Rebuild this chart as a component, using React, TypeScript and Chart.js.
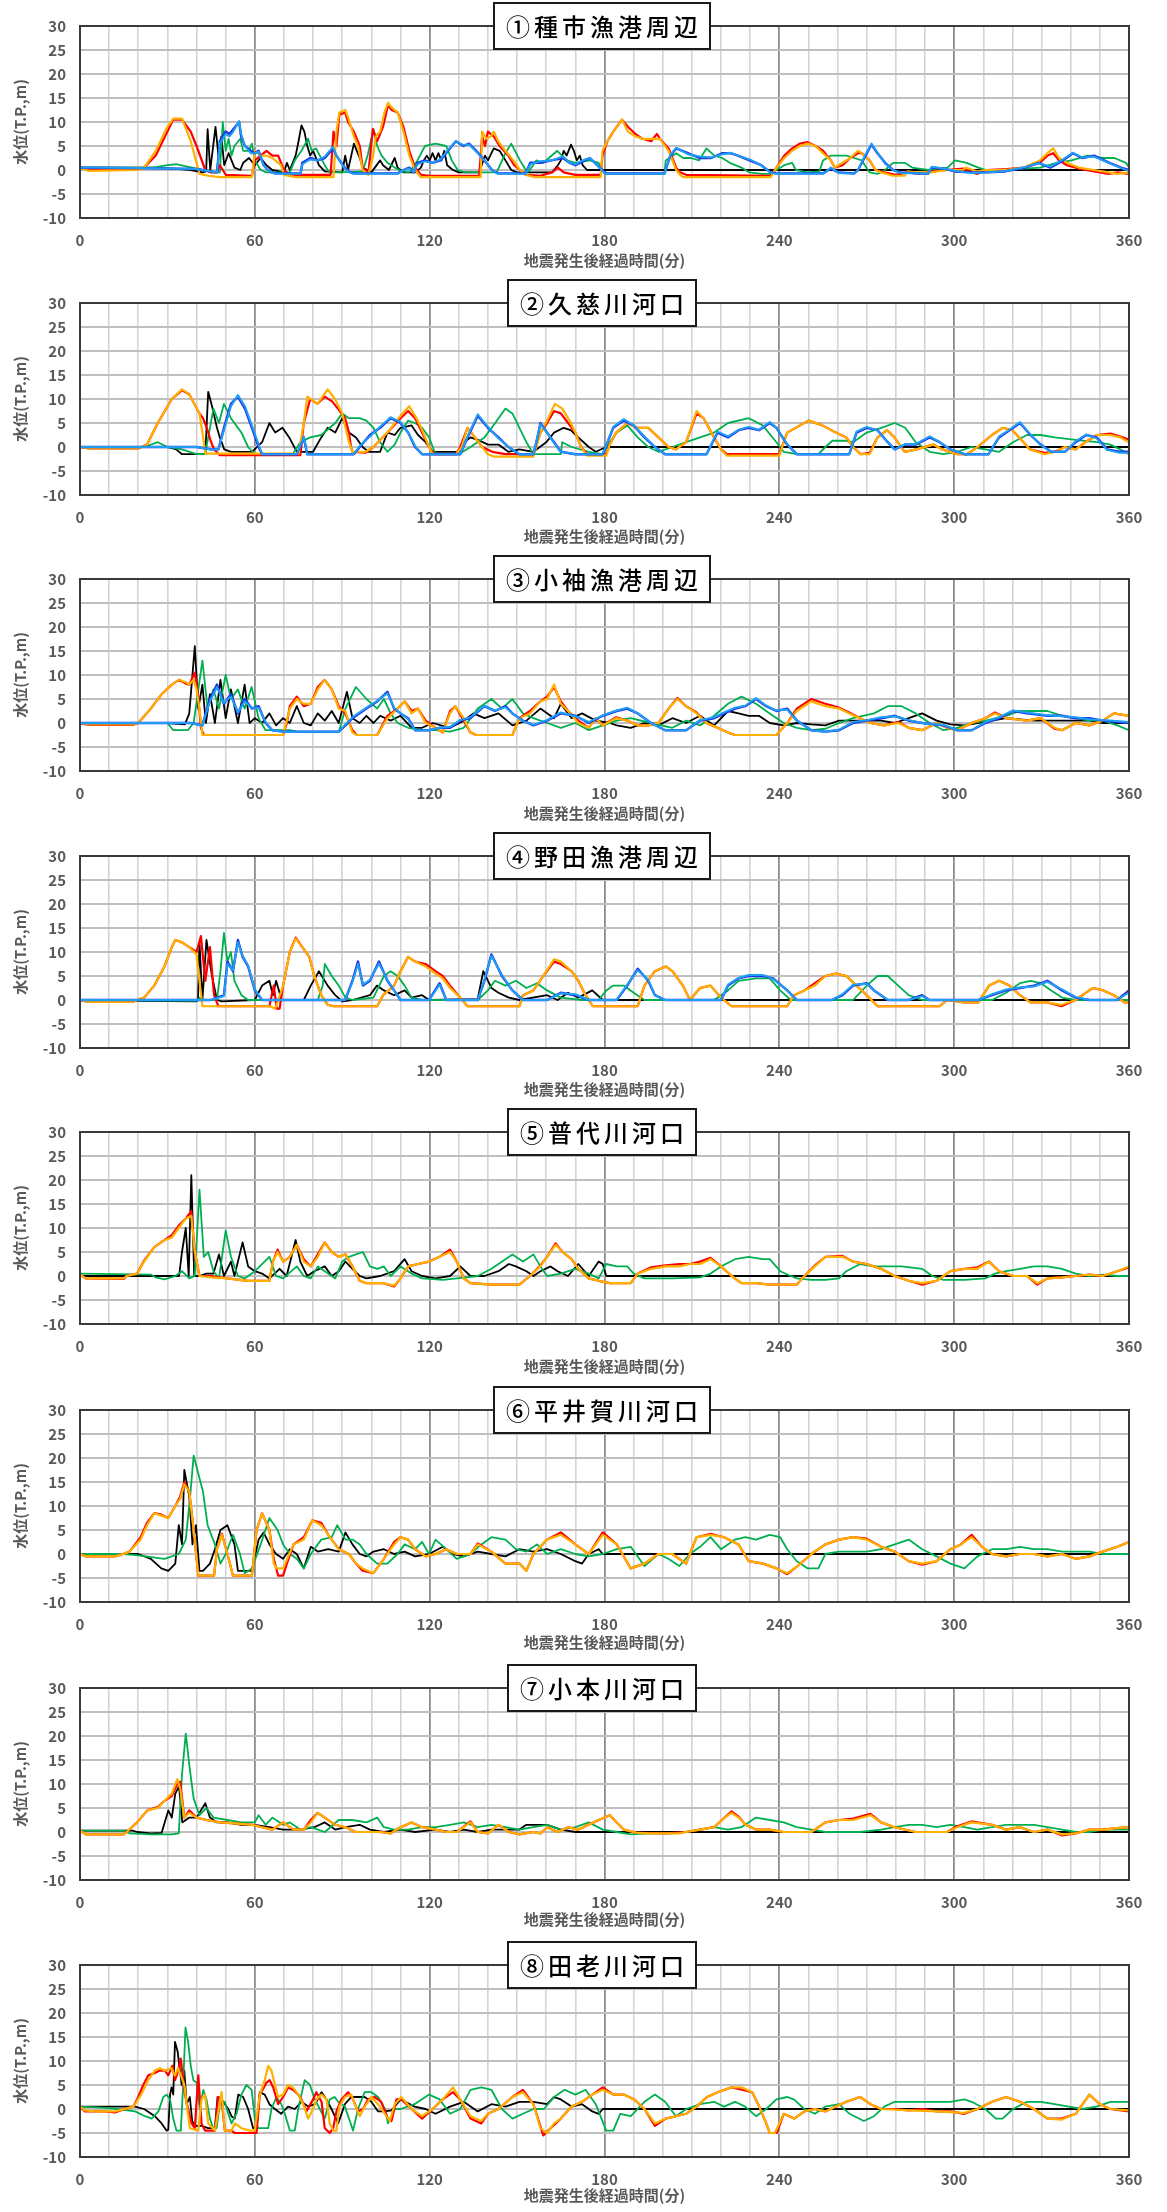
import React, { useEffect, useRef } from "react";
import { Chart, registerables } from "chart.js";
Chart.register(...registerables);

type Pt = [number, number];

const panelTitles = ["①種市漁港周辺", "②久慈川河口", "③小袖漁港周辺", "④野田漁港周辺", "⑤普代川河口", "⑥平井賀川河口", "⑦小本川河口", "⑧田老川河口"];
const xTickLabels = [0, 60, 120, 180, 240, 300, 360];
const yTickLabels = [-10, -5, 0, 5, 10, 15, 20, 25, 30];
const xAxisTitle = "地震発生後経過時間(分)";
const yAxisTitle = "水位(T.P.,m)";
const seriesColors = ["#000000", "#00B050", "#FF0000", "#FFB000", "#1E32E6", "#1E9EF5"];
const seriesWidths = [1.8, 1.8, 2.2, 2.2, 2.4, 2];

// ---------- Panel 1 ----------
const p1Black: Pt[] = [[0,0.5],[25,0.5],[32,0.3],[38,0],[42,-0.5],[43.3,-0.3],[43.8,8.5],[44.7,0],[46.5,9],[47.5,3],[48.5,7],[49.5,1],[51,3.5],[53,0.5],[55,0],[56,1.5],[58,2.5],[60,1],[62,2.5],[64,1],[66,0],[70,-0.5],[71,1.5],[72,0],[74,3],[75,6],[76,9.3],[77,8],[78,5],[79,3],[80,4],[82,1],[84,-0.3],[90,-0.5],[91,3],[92,0],[94,5.5],[95,4],[96,2.5],[97,0.5],[100,-0.5],[103,2],[104,1],[106,0],[108,2.5],[109,0.5],[111,-0.5],[115,-0.5],[117,0.5],[118,2],[119,3],[120,2],[121,3.5],[122,2],[123,3.5],[124,2],[125,4],[126,1],[128,0],[130,-0.5],[137,-0.5],[139,3],[140,2],[142,4.5],[144,4],[146,2],[148,0],[150,-0.5],[162,-0.5],[164,1],[165,2],[166,4],[167,3],[168.5,5.3],[169.5,4],[170.5,2],[171.5,3],[172.5,1],[174,0],[360,0]];
const p1Green: Pt[] = [[0,0.5],[25,0.5],[30,1],[33,1.2],[36,0.8],[42,0],[45,-0.5],[48,-0.5],[49,10],[50,4],[51,6.5],[52,3],[53,5],[55,6.5],[56,4],[58,4],[59,5.5],[60,2],[62,0],[64,-0.5],[72,-0.5],[73.7,2],[76,4],[78.3,6.5],[79.5,4],[81,4.5],[84,1],[85.5,-0.5],[89,-0.5],[97,-0.3],[98.7,3],[100.7,8.5],[102,5],[103.5,3],[105.5,1.5],[108,0.5],[110.5,-0.3],[113,-0.5],[115.8,2],[118.4,5],[122,5.5],[125.7,5],[127.6,2],[129.6,0],[132,-0.5],[143,-0.5],[146,3.5],[148,5.5],[149.3,4],[151,2],[153,0],[154,-0.3],[156.6,2],[159,1.5],[163.8,4],[167,2],[170,1.5],[175,2],[178,1.5],[180,-0.8],[200.6,-0.8],[201,2],[204.6,3.5],[207,2.5],[209.7,2.5],[212.4,2],[215,4.5],[217.7,3],[220.4,2.5],[223,1.5],[227,0.5],[229.7,-0.5],[234,-0.8],[237,-0.8],[239,0],[241.7,1],[244.4,1.5],[245.7,0],[249.7,-0.5],[253.7,-0.3],[255,2],[257.7,3],[263,3],[265.7,2.5],[268.3,2],[271,-0.5],[273.6,-0.8],[276.3,0],[279,1.5],[283,1.5],[285.6,0.5],[291,0],[297.7,0.5],[300.3,2],[304.3,1.5],[308.3,0.5],[311,0],[317.6,0],[324.3,0.3],[329.6,0.5],[335,1.5],[340.3,2],[345.7,3],[351,2.5],[355,2.5],[359,1.5],[360,0.5]];
const p1Red: Pt[] = [[0,0.5],[3,0],[20,0.2],[22,0.5],[26,3],[30,8],[32,10.5],[35,10.5],[38,8],[40,5],[43,0],[45,-0.5],[47,-0.5],[48,1],[50,-1],[59,-1.2],[60,2],[62,3],[64,4],[66,3],[68,3],[70,0],[72,-1],[86,-1],[87,8],[88,5],[89,11.5],[91,12],[92,10],[94,8],[96,5],[97,0.5],[99,-0.5],[100.5,8.5],[102,6],[104,9],[105.7,13.5],[107,12.5],[109,12],[111,9],[113,4],[115,0.5],[117,-1],[120,-1.2],[137,-1.2],[138,7],[139,5],[140,8],[142,7],[144,5],[147,3],[149,1],[151,0],[153,-1],[158,-1.2],[162,-0.5],[164,0.5],[166,-0.5],[170,-1],[178.7,-1],[179.3,3],[181,6],[183,8],[186,10.5],[188,9],[190.6,7.5],[193,6.5],[196,6],[198,7.5],[199,6.5],[202,4.5],[204.6,0.5],[206,-0.5],[208,-1],[237,-1.2],[239,0.5],[241.7,3],[244.4,4.5],[247,5.5],[249.7,5.8],[252.4,5],[255,4],[257.7,2],[259,0.5],[261.7,1],[264.3,2.5],[267,3.5],[268.3,3.5],[271,2],[273,0],[276,-0.5],[280,-1],[284,-0.5],[288,-0.8],[292,-0.3],[297.5,0],[303,0.3],[306,-0.5],[308,-0.8],[311,0],[318,0.2],[324,0.5],[329.4,1.5],[332,3],[334,3.5],[336,2],[338.7,1],[342.7,0.3],[348,-0.3],[353,-0.8],[356,-0.5],[360,-0.8]];
const p1Orange: Pt[] = [[0,0.5],[3,-0.2],[20,0],[22,0.5],[26,4],[30,9],[32,10.7],[35,10.7],[38,6],[41,-0.8],[44,-1.2],[48,-1.5],[59,-1.5],[60,4],[62,3],[64,3],[66,2.5],[69,1],[70,-1],[74,-1.5],[87,-1.5],[88,8],[89,12],[91,12.5],[92,11],[94,7],[95.4,5],[97,0],[99,-1],[100.6,3],[101.5,7],[103,8],[104.5,12],[105.7,14],[107,13],[109,12],[111,8],[113,3],[115,0],[117,-1.5],[137.5,-1.5],[138,8],[139.5,6.5],[141,7],[142,8],[143.5,6],[146,4],[148.7,2],[151,0],[153,-1],[156,-1.5],[178.7,-1.5],[179.3,4],[181,6],[183,8],[186,10.5],[188,8],[190.6,7],[193,6.5],[199,6.5],[202,4],[204.6,0],[206,-1],[207,-1.5],[237,-1.5],[239,0.5],[241.7,2.5],[244.4,4],[247,5],[249.7,5.5],[252.4,5],[255,3.5],[257.7,2],[259,0.5],[261.7,1.5],[264.3,2.5],[267,4],[268.3,3.5],[271,2],[273,0],[275,-0.5],[279,-1.2],[283,-1.2],[284,-0.3],[287,-0.5],[292,-0.5],[297.5,0],[303,0],[304,0.5],[308,-0.3],[310.7,0],[317.5,0],[324,0.5],[329.4,2],[332,3.5],[334,4.5],[336,2.5],[338.7,1.5],[342.7,0.5],[348,0],[353,-0.5],[356,-0.8],[360,-0.5]];
const p1Blue: Pt[] = [[0,0.5],[20,0.4],[40,0.2],[45,-0.3],[47,-0.5],[48,6],[50,8],[51.3,7.5],[52.6,8.5],[54.6,10],[55.3,7],[56.6,5],[58.6,4],[60,3.5],[61.3,4],[63,1],[64.5,0],[65.8,-0.5],[67,-0.7],[75.7,-0.7],[76.3,1.5],[79,2.5],[81.6,2],[84,2.5],[86.8,4.5],[88,3],[90.8,0.5],[92.8,-0.5],[94,-0.7],[109,-0.7],[111,0],[113,0.5],[114.5,-0.5],[115.8,1.5],[118.4,2],[121,1.5],[123.7,2],[126.3,4],[129,6],[131.6,5],[133.5,5.5],[136,4],[138.8,2],[141.4,0],[143.4,-0.7],[153,-0.7],[154.5,1.5],[157.9,1.5],[161.8,2],[165.8,2.5],[168,1.5],[170,1],[173.3,2],[175,2.5],[177.5,1],[180,-0.5],[181,-0.7],[200.6,-0.7],[202.6,3],[204.6,4.5],[208.6,3.5],[212.6,2.5],[216.6,2.5],[220.5,3.5],[223.2,3.5],[225.8,3],[229.8,2],[233.8,1],[237,-0.5],[239,-0.7],[255,-0.7],[257.7,0.3],[260.3,-0.5],[265.7,-0.7],[267,0],[269.6,3],[271.6,5.3],[273.7,3.5],[276.3,1.5],[279,0],[281.6,-0.5],[291,-0.8],[292.3,0.5],[296.3,0.3],[300.3,-0.3],[305.5,-0.5],[311,-0.5],[317.5,-0.3],[324.3,0.5],[329,1.5],[333,0.5],[337.4,2],[340.7,3.5],[344,2.5],[348,3],[353.3,1.5],[357.3,0.5],[360,0]];
const p1LightBlue: Pt[] = [[0,0.5],[20,0.4],[40,0.2],[45,-0.3],[47,-0.5],[48,5.5],[50,7.5],[51.3,7],[52.6,8],[54.6,10.2],[55.3,7.5],[56.6,5],[58.6,3.5],[60,3.5],[61.3,3.8],[63,1],[64.5,0],[65.8,-0.5],[67,-0.8],[75.7,-0.8],[76.3,1.2],[79,2.2],[81.6,2],[84,2.8],[86.8,4.8],[88,3],[90.8,0.3],[92.8,-0.6],[94,-0.8],[109,-0.8],[111,0],[113,0.3],[114.5,-0.5],[115.8,1.2],[118.4,1.8],[121,1.5],[123.7,2.2],[126.3,4.2],[129,6],[131.6,5.2],[133.5,5.3],[136,3.8],[138.8,2],[141.4,0],[143.4,-0.8],[153,-0.8],[154.5,1.2],[157.9,1.8],[161.8,2],[165.8,2.8],[168,1.5],[170,1.2],[173.3,2.2],[175,2.5],[177.5,1],[180,-0.6],[181,-0.8],[200.6,-0.8],[202.6,3.2],[204.6,4.6],[208.6,3.3],[212.6,2.8],[216.6,2.6],[220.5,3.3],[223.2,3.6],[225.8,3],[229.8,2.2],[233.8,1],[237,-0.6],[239,-0.8],[255,-0.8],[257.7,0.5],[260.3,-0.6],[265.7,-0.8],[267,0],[269.6,3.2],[271.6,5.5],[273.7,3.6],[276.3,1.3],[279,0],[281.6,-0.6],[291,-0.8],[292.3,0.7],[296.3,0.3],[300.3,-0.2],[305.5,-0.6],[311,-0.5],[317.5,-0.2],[324.3,0.6],[329,1.4],[333,0.7],[337.4,2.2],[340.7,3.6],[344,2.6],[348,2.8],[353.3,1.4],[357.3,0.4],[360,-0.2]];

// ---------- Panel 2 ----------
const p2Black: Pt[] = [[0,0],[30,0],[33,-0.5],[35,-1.5],[43,-1.5],[43.5,5],[44,11.5],[45.5,8],[47,4],[48,2],[49.5,-0.5],[51.8,-1],[59,-1],[62.5,1],[65,5],[67,3],[69.5,4],[71.8,2],[74.4,-1],[80,-1],[82.8,2],[85,4],[87.6,3],[90,6],[92.3,3],[94.7,2],[97,0],[99,-1],[103,-1],[105.5,3],[108,2.5],[110,4],[113.8,4.5],[116,2.5],[118.6,1],[121,-1],[130,-1],[131.7,1],[134,2],[136.5,1.5],[140,0.5],[143.6,0.5],[147,-1],[150.8,-0.5],[155.6,-1],[160,1],[162.7,3],[166,4],[168.4,3.5],[171,2],[174.6,0],[177,-1],[180.6,0],[360,0]];
const p2Green: Pt[] = [[0,0],[22,0],[26.7,1],[30,0],[35,-0.5],[40,-1.5],[43,-1.5],[44,2],[45.8,8],[47.7,5],[49.4,9],[51.8,6],[55.4,3],[57.7,0],[60,-1.5],[73,-1.5],[75.6,1],[79,2],[82.8,2.5],[87.6,5],[90,7],[92.3,6],[95.9,6],[98.3,5.5],[100.7,4],[103,1],[105.5,-1],[108,0.5],[110,3],[112.6,5.5],[115,5],[117.4,4],[119.8,2],[122,-1.5],[130,-1.5],[134,0],[138.8,2],[142.5,5],[146,8],[148.4,7],[150.8,4],[153.2,1],[155.6,-1.5],[165,-1.5],[165.5,1],[168.7,0],[174.6,-1],[179.4,-1.5],[181.8,1],[184.2,3],[187.8,4.5],[191.4,2],[195,0],[198.5,-1],[203.3,0],[208,1],[212.8,2],[217.6,3],[222.4,5],[229.5,6],[234.3,4.5],[239,1],[241.5,-1],[246,-1.5],[253.4,-1.5],[255.8,0],[258.2,1.3],[263,1.3],[265.3,1],[270,3],[275,4],[279.6,5],[283.2,4],[286.8,1],[291.6,-1],[296.3,-1.5],[301,-1],[306,0],[310.7,-0.5],[315.4,-1],[320.2,1],[325,2.5],[329.7,2.5],[334.5,2],[341.7,1.5],[349,1],[353.6,0.5],[357,-0.5],[360,-1.5]];
const p2Red: Pt[] = [[0,0],[3,-0.3],[20,-0.3],[23,0.5],[26.7,5],[31.5,10],[35,11.8],[37.5,11],[41,7],[42.2,6],[43.5,4],[45,1],[46,-0.5],[48,-1.7],[75.6,-1.7],[76.8,5],[79,10],[81.5,9],[84,10.5],[86.5,9.5],[88.5,8],[91,6],[92.3,3],[93,0],[93.5,-1],[98,-1.2],[100.7,0],[105.5,3],[110,6],[112.6,7.5],[115,6],[117.4,3],[119.8,0],[121.5,-1.5],[129,-1.5],[130.5,0],[133,4],[135.5,2],[138,0],[141.5,-1],[146,-1.5],[155.6,-1.5],[158,3],[160.3,5],[162.7,7.5],[165,7],[167.5,5],[170,3],[172,0],[174,-1.5],[180.6,-1.5],[181.8,0.5],[184,3],[187.8,5],[191,4],[195,4],[198.5,2],[202,0],[204.5,-0.5],[208,1],[211.6,7],[214,6],[217.6,2],[220,-0.5],[222,-1.5],[240,-1.5],[242.7,3],[250,5.5],[254.8,4.5],[259.4,3],[263,2],[265.3,0],[268,-1.5],[271,-1.2],[273.7,2],[277,3.5],[279.5,2],[283,-1],[287,-0.5],[292.8,0.5],[296,-0.5],[301,-1.5],[304.5,-1.5],[308,0],[313,2.5],[316.6,4],[320,3.5],[323.8,1],[326,-0.5],[331,-1.2],[334.5,-1],[338,0],[341.7,-0.5],[345,1],[349,2.5],[353.6,2.8],[357,2.2],[360,1.5]];
const p2Orange: Pt[] = [[0,0],[3,-0.3],[20,-0.3],[23,0.5],[26.7,5],[31.5,10],[35,12],[37.5,11],[41,7],[42.5,1],[43,-1.4],[75,-1.4],[76.8,5],[78,10.5],[81.5,9],[85,12],[87.5,10],[90,7],[92.3,1],[93.5,-1],[98,-1],[100.7,0],[105.5,3],[110,6.5],[113,8.5],[115.5,6],[117.8,3],[119.8,0],[121,-1.5],[129,-1.5],[131,0],[133,4],[135.5,2],[138,0],[140,-1.5],[142,-2],[155.6,-2],[158,3],[160.3,5.5],[163,9],[165.5,8],[168,5.5],[170,3],[172,0],[174,-1.8],[180.6,-1.8],[181.8,0.5],[184,3],[187.8,5],[191,4],[195,4],[198.5,2],[202,0],[204.5,-0.5],[208,1],[211.6,7.5],[214,6],[217.6,2],[220,-0.5],[222,-1.8],[240,-1.8],[242.7,3],[250,5.5],[254.8,4.5],[259.4,3],[263,2],[265.3,0],[268,-1.5],[271,-1.5],[273.7,2],[277,3.5],[279.5,2],[283,-1],[287,-0.5],[292.8,0.5],[296,-0.5],[301,-1.5],[304.5,-1.5],[308,0],[313,2.5],[316.6,4],[320,3.5],[323.8,1],[326,-0.5],[331,-1.5],[334.5,-1],[338,0],[341.7,-0.5],[345,1],[349,2.5],[353.6,2.5],[357,2],[360,1]];
const p2Blue: Pt[] = [[0,0],[40,0],[45,-0.5],[47.5,-0.5],[49.4,4],[51.8,9],[54.2,10.5],[56.6,8],[59,4],[61.3,0],[62.5,-1.5],[74.4,-1.5],[76.2,1],[76.8,2],[78,-1.5],[94,-1.5],[96,0],[99.5,2.5],[103,4],[106.6,6],[110,5],[112.6,3],[115,0],[117.4,-1.5],[130.5,-1.5],[133,2],[136.5,6.5],[140,4],[143.6,2],[147,0],[150.8,-1.5],[155.6,-1.5],[157,2],[158,5],[160.3,3],[162.7,1],[165,-1],[170,-1.5],[179.4,-1.5],[183,4],[186.6,5.5],[190,4.5],[193.7,2],[197.3,0],[200.8,-1.5],[215,-1.5],[218.8,3],[222.4,2],[226,3.5],[229.5,4],[233,3.5],[236.7,5],[239,4],[242.7,0.5],[246,-1.5],[264,-1.5],[266.5,3],[270,4],[273.7,3.5],[277.2,1],[279.6,-0.5],[283.2,0.5],[286.8,0.5],[291.6,2],[295,1],[298.7,-0.5],[303.5,-1.5],[311.8,-1.5],[315.4,2],[319,3.5],[322.6,5],[326.2,2.5],[329.7,0.5],[333.3,-1],[338,-1],[341.7,1],[345.3,2.5],[348.9,2],[352.5,-0.5],[356.8,-1],[360,-1]];
const p2LightBlue: Pt[] = [[0,0],[40,0],[45,-0.5],[47.5,-0.5],[49.4,3.5],[51.8,8.5],[54.2,10.8],[56.6,8.5],[59,4.5],[61.3,0.5],[62.5,-1.5],[74.4,-1.5],[76.2,1.2],[76.8,2.2],[78,-1.5],[94,-1.5],[96,0.2],[99.5,2.2],[103,4.2],[106.6,6.2],[110,5.2],[112.6,3],[115,0.2],[117.4,-1.5],[130.5,-1.5],[133,2.2],[136.5,6.8],[140,4.2],[143.6,1.8],[147,0],[150.8,-1.5],[155.6,-1.5],[157,2.2],[158,4.8],[160.3,3],[162.7,0.8],[165,-1],[170,-1.5],[179.4,-1.5],[183,4.2],[186.6,5.8],[190,4.5],[193.7,2.2],[197.3,0],[200.8,-1.5],[215,-1.5],[218.8,3.2],[222.4,2.2],[226,3.6],[229.5,4.2],[233,3.6],[236.7,5.2],[239,4],[242.7,0.6],[246,-1.5],[264,-1.5],[266.5,3.2],[270,4.2],[273.7,3.4],[277.2,1],[279.6,-0.5],[283.2,0.6],[286.8,0.6],[291.6,2.2],[295,1],[298.7,-0.5],[303.5,-1.5],[311.8,-1.5],[315.4,2.2],[319,3.6],[322.6,5.2],[326.2,2.6],[329.7,0.4],[333.3,-1],[338,-1],[341.7,1.2],[345.3,2.6],[348.9,1.8],[352.5,-0.6],[356.8,-1.2],[360,-1.2]];

// ---------- Panel 3 ----------
const p3Black: Pt[] = [[0,0],[30,0],[36,-0.3],[37.5,2],[39.4,16],[40.6,3],[42,8],[43.2,0],[44.6,6],[46.3,0],[48.2,9],[50,1],[51.8,7],[54.2,0],[56.5,8],[58.2,0],[60,1],[62.5,0],[65,2],[67.3,-0.5],[69.7,1],[72,0],[74.4,3.5],[76.8,0],[79.2,-0.5],[81.6,2],[84,0.5],[86.4,2.5],[88.8,0],[91.6,6.5],[93.5,1],[96,0],[98.3,1.5],[100.7,0],[103,1.5],[106.6,0.5],[110,1.5],[113.8,-1],[117.4,-1],[121,0],[127,-1],[131.7,0.5],[135,2],[138.8,1],[143.6,2],[148.4,-0.5],[153.2,0.5],[158,3],[162.7,1],[165,4],[168.7,1],[172.3,2],[177,0.5],[181.8,0],[184.2,-0.5],[189,-1],[193.7,0],[198.5,-0.5],[203.3,1],[208,0],[212.8,1.5],[217.6,-0.5],[222.4,2.5],[226,2],[229.5,1.5],[233,1.5],[236.7,0],[241.5,-0.5],[246,0],[251,-0.3],[255.8,-0.5],[260.5,0.5],[265.3,0.5],[270,0.5],[274.9,0.5],[279.6,0],[284.4,1],[289,2],[294,0.5],[298.7,-0.3],[303.5,-0.5],[308,0],[313,0.5],[317.8,1],[327.4,0.5],[337,0.5],[346.4,0.5],[351,0],[360,0]];
const p3Green: Pt[] = [[0,0],[30,0],[32,-1.5],[37,-1.5],[39,0],[42,13],[43.8,3],[45.8,7],[47.7,3],[50,10],[51.8,5],[54.2,7],[56.5,3],[58.9,7.5],[61.3,1],[63.7,-1.5],[72,-1.5],[75,-1.9],[88.8,-1.9],[91.1,3],[94.7,7.5],[98.3,5],[102,3],[104.3,5],[106.6,2],[109,0],[112.6,-1],[117.4,-1.5],[122,-1.5],[127,-1.8],[131.7,-1],[136.5,3],[141.2,5],[144.8,3],[148.4,5],[152,2],[155.6,1],[160.3,0],[165,-1],[170,0],[174.6,-1.5],[179.4,-0.5],[184.2,0.5],[189,1],[196,0],[203.3,-1],[208,0.5],[212.8,-0.5],[217.6,1.5],[222.4,4],[227,5.5],[232,4],[236.7,2],[241.5,0],[246,-1],[251,-1.5],[255.8,-1.2],[260.5,0],[265.3,1],[272.5,2],[277.2,3.5],[282,3.5],[286.8,2],[291.6,0],[296.3,-1.5],[301,-1],[306,0],[310.7,0.5],[317.8,1.5],[322.6,2.5],[327.4,2.5],[332,2.5],[337,1.5],[341.7,1],[346.4,0.5],[351,0.5],[356,-0.5],[360,-1.5]];
const p3Red: Pt[] = [[0,0],[3,-0.4],[18,-0.4],[20,0],[24.3,3],[28,6],[31.5,8],[34,9],[36.3,8.2],[37.5,8],[39.4,10.5],[40.5,6],[41.5,-1],[42.5,-2.5],[69.7,-2.5],[71,0],[72,3.5],[74.4,5.5],[76.8,3.5],[79.2,4],[81.6,7.5],[84,9],[86.4,7],[88.8,3.5],[91,2],[93.5,-1.5],[95,-2.5],[102,-2.5],[105.5,1.5],[109,3],[111.4,4.5],[113.8,2.5],[116,3],[118.6,0.5],[122,-1],[124.5,-2],[127,2.5],[128.8,3.5],[131.7,0.5],[134,-2],[136,-2.5],[148.4,-2.5],[150.8,1],[154.4,2.5],[158,4.5],[160.3,5.5],[162.7,7.5],[165,4.5],[167.5,2.5],[171,0.5],[174.6,-1],[177,1],[179.4,-0.5],[184,1.2],[187.8,0.5],[191.4,-0.5],[195,-0.5],[198.5,0],[202,3],[205,5.2],[208,3.5],[211.6,2.2],[215,0],[218.8,-1],[222.4,-2],[224.8,-2.5],[239,-2.5],[242.7,0],[246,3],[251,5],[255.8,4],[260.5,3.2],[264,2.2],[267.7,1],[271.3,0],[276,-0.5],[280.8,0.2],[284.4,-1],[289,-1.5],[294,0],[297.5,-1],[301,-1.5],[306,0],[310.7,1],[314,2.2],[318,1],[325,0.5],[329.7,1],[334.5,-1.2],[337,-1.5],[341.7,0],[346.4,-0.5],[351,0.5],[354.8,2],[360,1.5]];
const p3Orange: Pt[] = [[0,0],[3,-0.3],[18,-0.3],[20,0],[24.3,3],[28,6],[31.5,8],[34,9],[36.3,8.5],[37.5,8],[39,9],[40,7],[41,3],[42,-2.5],[69.7,-2.5],[72,3],[74.4,5],[76.8,4],[79.2,4],[81.6,7],[84,9],[86.4,7],[88.8,3],[91,2.5],[93.5,-2],[95,-2.5],[102,-2.5],[105.5,1],[109,3],[111.4,4.5],[113.8,2],[116,3],[118.6,0],[122,-1],[124.5,-2],[127,2],[128.8,3.5],[131.7,1],[134,-2],[136,-2.5],[148.4,-2.5],[150.8,1],[154.4,2],[158,4.5],[160.3,5],[162.7,8],[165,4],[167.5,2.5],[171,0],[174.6,-1],[177,1],[179.4,-0.5],[184,1],[187.8,0.5],[191.4,-0.5],[195,-0.5],[198.5,0],[202,3],[205,5],[208,3.5],[211.6,2],[215,0],[218.8,-1],[222.4,-2],[224.8,-2.5],[239,-2.5],[242.7,0],[246,2.5],[251,4.5],[255.8,3.5],[260.5,3],[264,2],[267.7,1],[271.3,0],[276,-0.5],[280.8,0],[284.4,-1],[289,-1.5],[294,0],[297.5,-1],[301,-1.5],[306,0],[310.7,1],[314,2],[318,1],[325,0.5],[329.7,1],[334.5,-1],[337,-1.5],[341.7,0],[346.4,-0.5],[351,0.5],[354.8,2],[360,1.5]];
const p3Blue: Pt[] = [[0,0],[38,0],[42,-0.5],[44.6,5],[47,8],[49.4,4],[51.8,6],[54.2,2],[56.5,5],[59,3],[61.3,3.5],[63.7,0],[66,-1.5],[69.7,-1.8],[88.8,-1.8],[91.1,-0.5],[93.5,1],[98.3,3],[102,4.5],[105.5,6.5],[107.8,3],[110,2],[112.6,1],[115,-1.5],[119.8,-1.5],[123.4,-1],[127,-1],[130.5,0.5],[134,1],[138.8,3.5],[142.4,2.5],[146,3.5],[148.4,2],[152,0.5],[155.6,-0.5],[160.3,0.5],[165,2],[170,1.5],[174.6,0],[179.4,1.5],[184.2,2.5],[187.8,3],[191.4,2],[196,0],[200.8,-1.5],[208,-1.5],[212.8,0.5],[217.6,1],[221,2],[224.8,3],[228.3,3.5],[232,5],[235.5,3.5],[239,2.5],[242.7,3],[246,0.5],[251,-1.5],[255.8,-1.8],[260.5,-1.5],[265.3,0],[270,0.5],[274.9,1],[279.6,1.5],[284.4,0.5],[289,0],[296.3,-0.5],[301,-1.5],[306,-1.5],[310.7,0],[315.4,1],[320.2,2.5],[325,2],[332,1.5],[337,1.5],[341.7,1],[346.4,1],[351,0.5],[360,0]];
const p3LightBlue: Pt[] = [[0,0],[38,0],[42,-0.5],[44.6,4.5],[47,7.5],[49.4,4.2],[51.8,5.5],[54.2,2.2],[56.5,4.5],[59,3.2],[61.3,3.2],[63.7,0.2],[66,-1.5],[69.7,-1.8],[88.8,-1.8],[91.1,-0.3],[93.5,1.2],[98.3,3.2],[102,4.6],[105.5,6.2],[107.8,3.2],[110,2],[112.6,0.8],[115,-1.5],[119.8,-1.5],[123.4,-1],[127,-0.8],[130.5,0.6],[134,1.2],[138.8,3.6],[142.4,2.6],[146,3.3],[148.4,2],[152,0.4],[155.6,-0.4],[160.3,0.6],[165,2.2],[170,1.4],[174.6,0.2],[179.4,1.6],[184.2,2.6],[187.8,3.2],[191.4,2],[196,0],[200.8,-1.5],[208,-1.5],[212.8,0.6],[217.6,1.2],[221,2.2],[224.8,3.2],[228.3,3.6],[232,5.2],[235.5,3.6],[239,2.6],[242.7,2.8],[246,0.5],[251,-1.5],[255.8,-1.8],[260.5,-1.4],[265.3,0.2],[270,0.6],[274.9,1.2],[279.6,1.4],[284.4,0.6],[289,0],[296.3,-0.4],[301,-1.5],[306,-1.5],[310.7,0.2],[315.4,1.2],[320.2,2.6],[325,2.2],[332,1.6],[337,1.4],[341.7,1.2],[346.4,0.8],[351,0.6],[360,0.2]];

// ---------- Panel 4 ----------
const p4Black: Pt[] = [[0,0],[20,-0.2],[40,-0.3],[40.5,0],[41,12],[42,0],[43.4,12.5],[45.3,5],[47,0],[48.7,-0.3],[60,0],[62.5,3],[65,4],[66.2,1],[67.3,4],[69.2,0],[76.8,0],[79.2,3],[82,6],[85,3],[87.6,1],[90,-0.3],[93.5,0],[99.5,1],[101.9,3],[104.3,2],[107.8,1],[111.4,2],[113.8,0.5],[117.4,1],[119.8,0],[136.5,0.2],[138.4,6],[141.2,2.5],[143.6,1.5],[147.2,0.5],[150.8,0],[160.3,1],[163.9,0],[167.5,1.5],[171,0.5],[175.8,2],[179.4,0],[360,0]];
const p4Green: Pt[] = [[0,0],[40,-0.2],[41,0.5],[42.2,0],[47,0],[48.2,6],[49.4,14],[50.6,8],[51.8,10],[53,4],[55.4,1],[57.7,0],[81.6,0],[83.3,3],[84,7.5],[86.4,5],[88.8,3],[91.1,0.5],[93.5,0],[100.7,0.5],[104.3,5],[106.6,6],[109,5],[111.4,3],[113.8,0.5],[117.4,0],[136.5,0],[140,2],[142.4,4],[146,3],[149.6,4],[153.2,2.5],[156.8,3.5],[160.3,2],[165,0.5],[172.3,0],[178,0],[180.6,2],[183,3],[186.6,3],[190,1.5],[193.7,0],[205.7,0],[217.6,0],[222.4,2],[226,4],[232,4.5],[236.7,4.5],[240.3,2],[243.9,0],[265.3,0],[270,3],[273.7,5],[277.2,5],[280.8,3],[284.4,1],[289,0],[313,0],[317.8,1.5],[322.6,3.5],[326.2,4],[329.8,3.5],[333.3,2],[337,0.5],[341.7,0],[360,0]];
const p4Red: Pt[] = [[0,0],[3,-0.4],[18,-0.4],[22,0.5],[25.5,3],[29,7],[31.5,11],[32.7,12.5],[35,12],[37.5,11],[40,10],[41.5,13.3],[43,4],[44.6,11],[46,1],[47.5,-1.3],[65,-1.3],[66.5,3],[67.5,-1.8],[68.5,-1.8],[69.7,3],[72,10],[74,13],[76.3,11],[78.7,9],[80.4,5],[82.8,1],[85,-1],[87,-1.3],[102,-1.3],[104,1],[107.8,3],[110,6],[112.6,9],[115,8],[118.6,7.5],[122,6],[124.5,5],[127,3],[130.5,0.5],[133,-1.3],[150.8,-1.3],[152,1],[155.6,2],[159,5],[162.7,8],[165,7.5],[168.7,6],[171,4],[173.5,1],[176,-1.3],[191.4,-1.3],[193.7,3],[197.3,6],[201,7],[203.3,6],[206.9,3],[209.3,0],[212.8,2.5],[216.4,3],[220,0.5],[223.6,-1.3],[242.7,-1.3],[245,1],[248.6,2],[252.2,3.5],[255.8,5],[259.4,5.5],[263,5],[266.5,3],[270,1],[273.7,-1.3],[295,-1.3],[297.5,0],[303.5,-0.5],[308.3,-0.5],[312,3],[315.4,4],[319,3],[322.6,1],[326.2,-0.5],[332,-0.5],[336.8,-1.3],[341.7,0],[344,1],[347.6,2.5],[351.2,2],[354.8,1],[358.4,-0.5],[360,-0.5]];
const p4Orange: Pt[] = [[0,0],[3,-0.4],[18,-0.4],[22,0.5],[25.5,3],[29,7],[31.5,11],[32.7,12.5],[35,12],[37.5,11],[40,9.5],[41,4],[42,-1.3],[65,-1.3],[67,-1.8],[69.7,3],[72,10],[74,12.8],[76.3,11],[78.7,9],[80.4,5],[82.8,1],[85,-1],[87,-1.3],[102,-1.3],[104,1],[107.8,3],[110,6],[112.6,9],[115,8],[118.6,7],[122,5.5],[124.5,4.5],[127,2.5],[130.5,0.5],[133,-1.3],[150.8,-1.3],[152,1],[155.6,2],[159,5],[162.7,8.5],[165,8],[168.7,6],[171,4],[173.5,1],[176,-1.3],[191.4,-1.3],[193.7,3],[197.3,6],[201,7],[203.3,6],[206.9,3],[209.3,0],[212.8,2.5],[216.4,3],[220,0.5],[223.6,-1.3],[242.7,-1.3],[245,1],[248.6,2],[252.2,3],[255.8,5],[259.4,5.5],[263,5],[266.5,3],[270,1],[273.7,-1.3],[295,-1.3],[297.5,0],[303.5,-0.5],[308.3,-0.5],[312,3],[315.4,4],[319,3],[322.6,1],[326.2,-0.5],[332,-0.5],[336.8,-1],[341.7,0],[344,1],[347.6,2.5],[351.2,2],[354.8,1],[358.4,-0.5],[360,-0.5]];
const p4Blue: Pt[] = [[0,0],[45,0],[49.4,1],[50.6,8],[52.5,6],[54.2,12.5],[55.8,9],[57.7,7],[60,2],[62.5,0],[91,0],[93.5,4],[95.4,8],[97.1,3],[99.5,4],[102.6,8],[105.5,4],[107.8,2],[110,0],[119.8,0],[123.4,3.5],[125.7,0],[136.5,0],[138.8,4],[141.2,9.5],[144.8,5],[148.4,2],[152,0],[160.3,0],[165,1.5],[170,1],[174.6,0],[184.2,0],[187.8,3],[191.4,6.5],[195,4],[197.3,1],[200.8,0],[220,0],[222.4,3],[226,4.5],[229.5,5],[234.3,5],[237.9,4.5],[242.7,2],[246,0],[258,0],[261.7,1],[265.3,3],[270,3.5],[272.5,2],[277.2,0],[284.4,0],[289,1],[291.5,0],[308.3,0],[313,1],[317.8,2],[322.6,2.5],[327.4,3],[332,4],[337,2],[341.7,0.5],[346.4,0],[356,0],[360,2]];
const p4LightBlue: Pt[] = [[0,0],[45,0],[49.4,0.8],[50.6,7.5],[52.5,6.2],[54.2,12],[55.8,9.2],[57.7,7.2],[60,2.2],[62.5,0],[91,0],[93.5,3.8],[95.4,7.5],[97.1,3.2],[99.5,4.2],[102.6,7.6],[105.5,4.2],[107.8,2],[110,0],[119.8,0],[123.4,3.2],[125.7,0],[136.5,0],[138.8,4.2],[141.2,9.2],[144.8,5.2],[148.4,2],[152,0],[160.3,0],[165,1.4],[170,1.2],[174.6,0],[184.2,0],[187.8,3.2],[191.4,6.2],[195,4.2],[197.3,1],[200.8,0],[220,0],[222.4,3.2],[226,4.6],[229.5,5.2],[234.3,5.2],[237.9,4.4],[242.7,2],[246,0],[258,0],[261.7,1.2],[265.3,3.2],[270,3.4],[272.5,2],[277.2,0],[284.4,0],[289,0.8],[291.5,0],[308.3,0],[313,1.2],[317.8,2.2],[322.6,2.6],[327.4,2.8],[332,3.8],[337,2.2],[341.7,0.6],[346.4,0],[356,0],[360,1.6]];

// ---------- Panel 5 ----------
const p5Black: Pt[] = [[0,0],[30,0],[34,0],[35,5],[36.3,10],[37.3,0],[38.2,21],[39.2,0],[41,0],[43.4,0.5],[45.8,0.5],[47.7,4.5],[49.4,0],[51.8,3],[53,0],[55.8,7],[57.7,2],[60,1],[62.5,0.5],[65,-0.5],[68.5,1.5],[70.9,0],[74,7.5],[75.6,3],[78,0],[80.4,1],[84,2],[86.4,0],[88.8,1],[91.1,3],[93.5,1.5],[96,0],[98.3,-0.5],[103,0],[107.8,1],[111.4,3.5],[113.8,1],[117.4,0],[122,-0.5],[127,0],[130.5,2],[134,0],[138.8,0],[143.6,1],[147.2,2.5],[149.6,2],[153.2,1],[155.6,0],[158,1],[161.5,2],[163.9,1],[167.5,0],[171,2.5],[174.6,0],[178,3],[179.4,2.5],[180.6,0],[360,0]];
const p5Green: Pt[] = [[0,0.5],[24.3,0.3],[26,-0.3],[29,-0.7],[32.7,0],[35,1],[37.5,-0.5],[39.4,0],[41,18],[42.5,4],[44,5],[45.8,1],[47.7,-0.5],[50,9.5],[51.8,4],[54.2,0],[56.5,-0.5],[60,1],[65,4],[67.3,0],[69.7,-0.5],[74.4,2],[76.8,0],[79.2,-0.5],[81.6,2],[84,1],[87.6,-0.5],[90,3],[92.3,4],[94.7,4.5],[97.1,5],[99.5,2],[102,1.5],[104.3,2],[106.6,0],[110,2],[113.8,0.5],[117.4,-0.5],[124.5,-0.8],[129.3,-0.5],[136.5,0],[141.2,1.5],[146,3.5],[148.4,4.5],[152,3],[155.6,4.5],[158,2],[160.3,0],[165,0.5],[170,1.5],[174.6,0.5],[178,-0.5],[180.6,2.5],[184.2,2],[187.8,2],[190,0.5],[193.7,-0.5],[203.3,-0.5],[212.8,-0.3],[216.4,0.5],[220,2],[224.8,3.5],[229.5,4],[234.3,3.5],[236.7,3.5],[240.3,1],[243.9,0],[246,-0.5],[251,-0.8],[255.8,-0.8],[260.5,-0.5],[263,1],[267.7,2.5],[272.5,2],[277.2,2],[282,2],[289,1.5],[292.5,0],[296.3,-0.8],[303.5,-0.8],[310.7,-0.5],[314,0.5],[317.8,1],[322.6,1.5],[327.4,2],[332,2],[337,1.5],[341.7,0.5],[346.4,0],[351,0.3],[356,0],[360,0]];
const p5Red: Pt[] = [[0,0.3],[2,-0.5],[15,-0.6],[16,0],[19.6,0.5],[22,3.2],[25.5,6],[29,7.5],[31.5,8.5],[33.9,10.5],[36.3,12],[38.2,13.5],[39.4,5],[41,0],[45,0],[50.6,-0.5],[57.7,-1],[65,-1],[66.2,3],[67.8,5.5],[69.7,3],[72,4],[74.4,6.5],[76.8,3.5],[79.2,2],[81.6,4.5],[84,7],[86.4,5],[88.8,4],[91.1,4.5],[93.5,2],[96,-1],[98.3,-1.5],[104,-1.5],[107.8,-2.2],[110,-0.5],[112.6,2],[116,2.5],[119.8,3],[123.4,4],[127,5.5],[129.3,3],[131.7,-0.5],[134,-1.5],[141.2,-1.8],[150.8,-1.8],[154.4,0],[158,2.2],[160.3,4],[163.2,6.8],[165.6,5],[168.7,3.5],[171,1.5],[174.6,-0.5],[178,-1],[181.8,-1.5],[189,-1.5],[191.4,0.5],[196,1.8],[201,2.2],[205.7,2.5],[209.3,2.5],[212.8,3],[216.4,3.8],[220,2],[223.6,0],[227,-1.5],[232,-1.5],[236.7,-1.8],[246,-1.8],[248.6,0],[252.2,2.2],[255.8,4],[261.7,4.2],[265.3,3],[270,2.5],[274.9,1.5],[279.6,0],[284.4,-1],[289,-1.8],[294,-1],[298.7,1],[303.5,1.5],[308,1.8],[312,3],[315.4,1],[320.2,0],[325,0],[328.5,-1.8],[332,-0.5],[337,-0.3],[341.7,0],[346.4,0.3],[351,0],[356,1],[360,1.8]];
const p5Orange: Pt[] = [[0,0.3],[2,-0.5],[15,-0.5],[16,0],[19.6,0.5],[22,3],[25.5,6],[29,7.5],[31.5,8],[33.9,10],[36.3,12],[38.2,12.5],[39.4,5],[41,0],[45,-0.3],[50.6,-0.5],[57.7,-1],[65,-1],[66.2,3],[67.8,5],[69.7,3],[72,4],[74.4,6.5],[76.8,3],[79.2,2],[81.6,4],[84,7],[86.4,5],[88.8,4],[91.1,4.5],[93.5,2],[96,-1],[98.3,-1.5],[104,-1.5],[107.8,-2],[110,-0.5],[112.6,2],[116,2.5],[119.8,3],[123.4,4],[127,5],[129.3,3],[131.7,-0.5],[134,-1.5],[141.2,-1.8],[150.8,-1.8],[154.4,0],[158,2],[160.3,4],[163.2,6.5],[165.6,5],[168.7,3.5],[171,1.5],[174.6,-0.5],[178,-1],[181.8,-1.5],[189,-1.5],[191.4,0.5],[196,1.5],[201,2],[205.7,2],[209.3,2.5],[212.8,2.5],[216.4,3.5],[220,2],[223.6,0],[227,-1.5],[232,-1.5],[236.7,-1.8],[246,-1.8],[248.6,0],[252.2,2],[255.8,4],[261.7,4],[265.3,3],[270,2.5],[274.9,1.5],[279.6,0],[284.4,-1],[289,-1.5],[294,-1],[298.7,1],[303.5,1.5],[308,1.5],[312,3],[315.4,1],[320.2,0],[325,0],[328.5,-1.5],[332,-0.5],[337,-0.3],[341.7,0],[346.4,0.3],[351,0],[356,1],[360,2]];

// ---------- Panel 6 ----------
const p6Black: Pt[] = [[0,0],[20,0],[24.3,-1],[27.9,-3],[30.3,-3.5],[32.7,-2],[33.9,6],[35,2],[35.8,17.5],[37.5,12],[38.6,2],[39.8,6],[41,-3.5],[42.2,-3.5],[44.6,-2],[46.3,1],[48.2,5],[50.6,6],[53,2],[54.2,-3.5],[59,-3.5],[61.3,3],[63,4.5],[65,2],[67.3,0],[69.7,-1],[72,1],[74.4,0],[76.8,-3],[79.2,1.5],[81.6,0.5],[85.2,1],[88.8,0.5],[91.1,4.5],[93.5,2],[96,0],[98.3,-0.5],[100.7,0.5],[104.3,1],[107.8,0],[111.4,0.5],[115,-0.5],[119.8,0],[124.5,1.5],[128,0],[131.7,-0.5],[136.5,0.5],[141.2,0],[146,-0.5],[150.8,1],[155.6,0.5],[160.3,1],[165,0],[170,-1.5],[172.3,-2],[174.6,0],[178,1],[179.4,0],[360,0]];
const p6Green: Pt[] = [[0,0],[15,0],[20,-0.3],[29,-1],[33.9,0],[36.3,3],[37.8,12],[39,20.5],[40.5,17],[42.2,13],[43.8,6],[46.3,2],[48.2,-2],[50,0],[52.5,4],[54.9,0],[56.5,-4],[59,-3],[62,2],[65,7.5],[67.8,5],[69.7,2],[72,0],[74.4,-1],[76.8,-3],[79.2,0],[82.8,3],[86.4,3.5],[88.3,6],[91.1,3],[93.5,3],[96,2],[98.3,0],[102,-2],[105.5,-2],[109,0],[111.4,2],[115,1],[117.4,2.5],[119.8,0],[122,3],[125.7,1],[129.3,-1],[134,0],[137.7,2],[141.2,3.5],[146,3],[149.6,1],[153.2,0.5],[156.8,2],[160.3,0],[165,1],[170,0],[174.6,-0.5],[179.4,0],[184.2,1],[189,1.5],[193.7,-2.5],[198.5,0],[201.9,-1],[205.7,-2.5],[209.3,0],[212.8,1.5],[216.4,3.5],[220,1],[224.8,3],[228.4,3.5],[232,3],[236.7,4],[240.3,3.5],[242.7,1],[246,-1.5],[249.8,-3],[253.4,-3],[255.8,0],[260.5,0.5],[270,0.5],[274.9,1],[279.6,2],[284.4,3],[289,1],[294,-0.5],[298.7,-2],[303.5,-3],[308,-0.5],[313,1],[317.8,1],[322.6,1.5],[327.4,1],[332,1],[337,0.5],[346.4,0.5],[351,0],[360,0]];
const p6Red: Pt[] = [[0,0],[2,-0.5],[12,-0.5],[14.8,0],[17,0.5],[20.8,3.5],[23,6.5],[25.5,8.5],[27.9,8.2],[30.3,7.5],[32.7,10],[34.4,12],[35.8,15],[37.5,13],[39,5],[40.6,-4.5],[46,-4.5],[47,1],[48.7,4.2],[50.6,0],[52.5,-4.5],[59,-4.5],[60.6,5],[62.5,8.5],[65,5],[66.5,-1],[68,-4.5],[69.7,-4.5],[71,-2],[73.3,2],[76.8,3.5],[79.7,7],[82.8,6.5],[85.2,4],[88.8,1],[92.3,0],[94.7,-2],[97,-3.5],[100.7,-4],[104.3,-1],[107.8,2.5],[110,3.5],[112.6,3],[115,1],[118.6,-0.5],[122,0],[125.7,1],[129.3,0],[134,0],[136.5,2.2],[141.2,0.5],[146,-2],[150.8,-2],[153.2,-3.5],[155.6,0],[160.3,3],[165,4.5],[170,2],[174.6,0],[179.4,4.5],[184.2,2],[189,-3],[193.7,-2],[198.5,0],[203.3,0],[208,-2],[211.6,3.5],[216.4,4.2],[221,3.5],[226,2],[229.5,-1.5],[234.4,-2],[239,-3],[242.7,-4.2],[246.3,-2.5],[251,0],[255.8,2],[260.5,3],[265.3,3.5],[270,3.2],[274.9,1.5],[279.6,0.5],[284.4,-1.5],[289,-2.2],[294,-1.5],[298.7,1],[302.3,2],[306,4],[309.5,1.5],[313,0],[317.8,-0.5],[322.6,0],[327.4,0],[332,-0.5],[337,0],[341.7,-1],[346.4,-0.5],[351,0.5],[356,1.5],[360,2.5]];
const p6Orange: Pt[] = [[0,0],[2,-0.5],[12,-0.5],[14.8,0],[17,0.5],[20.8,3],[23,6],[25.5,8.5],[27.9,8],[30.3,7.5],[32.7,10],[34.4,11.5],[35.8,14.5],[37.5,13],[39,5],[40.6,-4.5],[46,-4.5],[47,1],[48.7,4],[50.6,0],[52.5,-4.5],[59,-4.5],[60.6,5],[62.5,8.5],[65,5],[66.5,-2],[67.5,-3],[69.7,-3],[73.3,2],[76.8,3],[79.7,7],[82.8,6],[85.2,4],[88.8,1],[92.3,0],[94.7,-2],[97,-3],[100.7,-4],[104.3,-1],[107.8,2],[110,3.5],[112.6,3],[115,1],[118.6,-0.5],[122,0],[125.7,1],[129.3,0],[134,0],[136.5,2],[141.2,0.5],[146,-2],[150.8,-2],[153.2,-3.5],[155.6,0],[160.3,3],[165,4],[170,2],[174.6,0],[179.4,4],[184.2,2],[189,-3],[193.7,-2],[198.5,0],[203.3,0],[208,-2],[211.6,3.5],[216.4,4],[221,3.5],[226,2],[229.5,-1.5],[234.4,-2],[239,-3],[242.7,-4],[246.3,-2.5],[251,0],[255.8,2],[260.5,3],[265.3,3.5],[270,3],[274.9,1.5],[279.6,0.5],[284.4,-1.5],[289,-2],[294,-1.5],[298.7,1],[302.3,2],[306,3.5],[309.5,1.5],[313,0],[317.8,-0.5],[322.6,0],[327.4,0],[332,-0.5],[337,0],[341.7,-1],[346.4,-0.5],[351,0.5],[356,1.5],[360,2.5]];

// ---------- Panel 7 ----------
const p7Black: Pt[] = [[0,0.3],[18,0.3],[19.6,0],[24.3,-0.3],[28,-0.2],[30.3,4.5],[31.5,3],[32.7,8],[34,9.5],[35.1,2],[37.5,3],[40,3],[43,6],[44.6,3],[47,2],[50.6,2],[55.4,1.5],[60,1.5],[65,1],[69.7,0.5],[75.6,0.5],[80.4,1],[84,2],[87.6,0.5],[91.1,1],[96,1.5],[99.5,0.5],[104.3,0],[110,0.5],[115,0],[122,0.5],[127,0],[131.7,0.5],[136.5,0],[141.2,0.5],[146,0.5],[150.8,0.5],[153.2,1.5],[156.8,1.5],[160.3,1.5],[165,0.5],[170,0],[174.6,0],[360,0]];
const p7Green: Pt[] = [[0,0.3],[15,0.3],[17,-0.3],[24.3,-0.5],[31.5,-0.5],[33.9,-0.3],[35,12],[36.3,20.5],[37.7,13],[39,7],[41,3.5],[43.4,5],[45.8,3],[50.6,2.5],[55.4,2],[60,2],[61.3,3.5],[63.7,1.5],[66,3],[69.7,1.5],[72,2],[75.6,0.5],[79.2,1],[84,0],[88.8,2.5],[93.5,2.5],[98.3,2],[102,3],[104.3,1],[107.8,0.5],[112.6,0.5],[117.4,1],[122,1],[127,1.5],[131.7,2],[136.5,1],[141.2,1.5],[146,1],[150.8,0.5],[155.6,1],[160.3,1.5],[165,0.5],[170,1],[174.6,2],[179.4,0.5],[184.2,0],[189,-0.5],[196,-0.3],[203.3,-0.3],[208,0],[212.8,0.5],[217.6,1],[222.4,0.5],[227,1],[232,3],[236.7,2.5],[241.5,2],[246,1],[251,0.5],[255.8,0],[267.7,0],[274.9,0.5],[279.6,1],[284.4,1.5],[289,1.5],[294,1],[298.7,1.5],[303.5,1],[308,0.5],[313,1],[317.8,1.5],[327.4,1.5],[332,1],[337,0.5],[341.7,0],[346.4,0],[351,0.5],[360,0.5]];
const p7Red: Pt[] = [[0,0.3],[2,-0.5],[15,-0.5],[16,0],[19.6,2],[23.1,4.5],[26.7,5.2],[29,6.5],[31.5,7.5],[33.4,10],[34.4,10.5],[35.8,3],[37.5,4.5],[40,3],[43.4,2.5],[48.2,2],[53,1.8],[59,1.5],[62.5,1],[66,0.5],[69.7,2],[73.3,0.5],[76.8,0.5],[79.2,2.5],[81.6,4],[84,3],[87.6,1.5],[91.1,1],[94.7,0],[98.3,0],[103,0],[106.6,-0.3],[110,1],[113.8,2],[117.4,1],[122,0.5],[125.7,0],[129.3,0],[134,2.2],[136.5,0],[140,-0.3],[143.6,1.5],[147.2,0],[150.8,-0.5],[155.6,0],[158,-0.3],[160.3,1],[164,0],[167.5,1],[171,0.5],[174.6,1.5],[178,2.5],[181.8,3.5],[184.2,2],[186.6,0.5],[191.4,-0.2],[201,-0.3],[208,0],[212.8,0.5],[217.6,1],[221.2,3],[223.6,4.3],[226,3.2],[228.4,1.5],[232,0.5],[236.7,0.5],[241.5,0],[251,0],[255.8,2],[260.5,2.5],[265.3,2.8],[271.3,3.8],[274.9,2],[279.6,1],[286.8,0],[297.5,0],[301,1.2],[305.9,2.2],[313,1.5],[317.8,0.5],[322.6,1],[327.4,0],[332,0.5],[337,-0.7],[341.7,-0.3],[346.4,0.5],[351,0.5],[356,0.8],[360,1]];
const p7Orange: Pt[] = [[0,0.3],[2,-0.5],[15,-0.5],[16,0],[19.6,2],[23.1,4.5],[26.7,5],[29,6.5],[31.5,8],[33.4,11],[34.4,9],[35.8,3],[37.5,4],[40,3],[43.4,2.5],[48.2,2],[53,1.8],[59,1.5],[62.5,1],[66,0.5],[69.7,2],[73.3,0.5],[76.8,0.5],[79.2,2],[81.6,4],[84,3],[87.6,1.5],[91.1,1],[94.7,0],[98.3,0],[103,0],[106.6,-0.3],[110,1],[113.8,2],[117.4,1],[122,0.5],[125.7,0],[129.3,0],[134,2],[136.5,0],[140,-0.3],[143.6,1.5],[147.2,0],[150.8,-0.5],[155.6,0],[158,-0.3],[160.3,1],[164,0],[167.5,1],[171,0.5],[174.6,1.5],[178,2.5],[181.8,3.5],[184.2,2],[186.6,0.5],[191.4,-0.2],[196,-0.3],[201,-0.3],[205.7,-0.3],[208,0],[212.8,0.5],[217.6,1],[221.2,3],[223.6,4],[226,3],[228.4,1.5],[232,0.5],[236.7,0.5],[241.5,0],[251,0],[255.8,2],[260.5,2.5],[265.3,2.5],[271.3,3.5],[274.9,2],[279.6,1],[286.8,0],[294,0],[297.5,0],[301,1],[305.9,2],[313,1.5],[317.8,0.5],[322.6,1],[327.4,0],[332,0.5],[337,-0.5],[341.7,-0.3],[346.4,0.5],[351,0.5],[356,0.8],[360,1]];

// ---------- Panel 8 ----------
const p8Black: Pt[] = [[0,0.5],[18.9,0.5],[22,0],[25.7,-1.5],[28,-3],[29.7,-4.5],[30.3,-4.3],[30.9,3],[31.4,4.5],[32,3],[32.6,14],[33.5,12],[34.3,8],[34.9,5],[35.8,8],[36.6,1],[37.7,2.5],[38.5,-2.5],[39.4,-3.5],[41.7,-3.5],[44,-4],[46.3,-4],[47.2,2.5],[48.6,2],[50.9,0],[52,-1.5],[53.1,-2],[54.3,3],[56,2.5],[57.7,0],[59.4,-4],[60.6,-4],[61.7,3.5],[63.4,3],[65,1],[66.9,0],[69,-1],[71.4,0.5],[73.7,0],[76,1.5],[78.3,0.5],[80.6,1],[82.9,3.5],[84.6,2],[86.3,0],[88.6,-3],[90.9,1],[93.1,2.5],[95.4,2.5],[97.7,2.5],[100,1.5],[102.3,-0.5],[104.6,-0.5],[106.9,-0.3],[110,2],[114.8,0.5],[118.6,0],[122,-1],[127,0.5],[131.7,1.5],[136.5,-0.5],[141.2,1],[146,0.5],[150.8,1.5],[155.6,1.5],[160.3,1],[162.7,2.5],[165,2],[168.7,0.5],[172.3,1],[175.8,-0.5],[178,-1],[179.4,0],[360,0]];
const p8Green: Pt[] = [[0,0.5],[7.4,0.3],[13,0],[18.9,-0.5],[22.3,-1.5],[24.6,-2],[26.9,-0.5],[28.6,2.5],[29.7,3],[30.9,2],[32,-2],[33.1,-4.5],[34.6,-4.5],[35.4,5],[36.2,17],[37.1,14],[38,9],[38.9,6],[40,5.5],[41.1,0],[42.3,4],[43.4,2],[44.6,-2],[45.7,-4],[46.9,-4],[48,1],[49.7,1.5],[50.9,-1],[52,-3],[53.7,-1],[55.4,3],[57.1,5],[58.9,4],[60,-2],[61.1,-4],[64.6,-4],[65.7,0],[67.4,2.5],[69.1,1],[70.3,-1],[72,-4.5],[73.7,-4.5],[74.9,0],[76,3],[77.1,6],[78.9,5],[80.6,2],[82.3,0],[84,-2],[85.7,2],[87.4,2.5],[88.6,1.5],[90.9,0.5],[92.6,-2.5],[93.7,-4.5],[95.4,0],[97.7,3.5],[100,3.5],[102.3,2.5],[104.6,0],[105.7,-3],[108,0],[110,0],[114.8,1],[119.8,3],[123.4,2],[127,-1],[130.5,0],[134,4],[137.7,4.5],[141.2,4],[144.8,0],[148.4,-2],[152,-1],[155.6,0],[159.2,0],[162.7,2.5],[166.3,4],[170,3],[173.5,4],[177,1],[180.6,-4.5],[183,-4.5],[185.4,-1],[189,-1.5],[193.7,1.5],[197.3,3],[200.8,1.5],[204.5,-1.5],[208,0],[212.8,1],[217.6,1.5],[221,0.5],[224.8,1.5],[228.3,0.5],[232,-1.5],[235.5,0],[239,2],[242.7,2.5],[245,2],[248.6,0],[252.2,-1],[255.8,0.5],[260.5,1],[264.1,-1],[269,-2.5],[272.5,-1.5],[276,0.5],[279.6,1.5],[284.4,1.5],[294,1.5],[298.7,1.5],[303.5,2],[306,1.5],[310.7,0],[314.3,-2],[316.6,-2],[320.2,0],[325,1.5],[329.7,1.5],[334.5,1],[339.3,0.5],[344,0],[348.8,0.5],[353.6,1.5],[360,1.5]];
const p8Red: Pt[] = [[0,0.5],[1.7,-0.5],[5,-0.5],[8.6,-0.5],[12,-0.7],[15.4,0],[18.3,0.5],[20,2.5],[21.7,5],[23.4,7],[25.7,7.5],[27.4,8],[29.1,8],[30.3,7],[31.7,9],[32.6,6],[33.7,8],[34.6,10.5],[35.4,6],[36,3],[37.1,0],[38.3,-3],[39.4,-4],[40.6,7],[41.7,-3],[42.9,-4.5],[46.3,-4.5],[47.4,2.5],[48.6,2],[49.7,-4.5],[52,-4.5],[53.1,-5],[60.6,-5],[61.7,3],[64,5.5],[65.1,6],[66.3,4.5],[68,1],[69.7,2.5],[71.4,4.5],[73.1,4],[74.9,3],[76,2],[77.7,-0.5],[80,2],[81.1,3.5],[82.9,1.5],[84,-4],[85.7,-5],[86.9,-4],[88,-0.5],[89.7,2],[92,3.5],[93.7,2],[95.4,-0.5],[97.1,0],[98.9,2],[101.1,2.5],[103.4,1.5],[105.7,-2],[106.9,-2.5],[108.6,2],[110.3,2],[113.8,0],[117.4,-2],[121,0],[124.5,2],[128,3.5],[130.5,2],[134,-2],[137.7,-3],[140,-1],[143.6,0],[148.4,2.5],[152,4],[155.6,1],[159,-5.5],[161.5,-4],[165,-2],[168.7,0.5],[172.3,1.5],[175.8,3],[179.4,4.5],[183,3],[186.6,3],[190.2,2],[193.7,0],[197.3,-3.5],[201,-2],[204.5,-1.5],[208,-1],[211.6,0.5],[215.2,2.5],[218.8,3.5],[223.6,4.5],[227.2,4],[230.7,3.5],[233.1,0.5],[235.5,-3],[236.7,-5],[239.1,-5],[241.5,-1],[245.1,-2],[248.6,-0.5],[252.2,0],[255.8,-0.5],[259.4,0.5],[263,1.5],[267.7,2.5],[271.3,1],[274.9,0],[279.6,0],[284.4,-0.3],[289,0],[294,-0.5],[298.7,-0.5],[303.5,-1],[308,0],[313,1.5],[317.8,2.5],[322.6,1.5],[327.4,0],[332,-2],[337,-2],[341.7,-1],[346.4,3],[350,1],[353.6,0],[360,-0.5]];
const p8Orange: Pt[] = [[0,0.5],[1.7,-0.3],[5,-0.5],[12,-0.5],[15.4,0],[18.3,0.5],[21,3],[23.4,6],[25.7,8],[27.4,8.5],[29.1,8],[31.4,8.5],[32.6,7],[33.7,8.5],[34.6,7],[35.8,5],[36.6,1],[37.7,-4],[40.6,-4.5],[41.7,2],[42.9,3],[44,-3],[46.3,-4.5],[48.6,3.5],[49.7,-4.5],[52,-4.5],[53.1,-3],[55.4,-4],[58.3,-4.5],[60,-4.5],[61.7,3],[63.4,6],[64.6,9],[65.7,8],[66.9,5],[68,2.5],[69.7,3],[71.4,5],[73.1,4.5],[74.9,3],[76.6,1],[78.3,-2],[80,0],[81.1,2],[82.9,3],[84.6,2],[85.7,-3],[86.9,-4.5],[88,-4.5],[89,0.5],[90.9,2.5],[93.1,3],[94.3,1],[96,-1.5],[97.7,0.5],[100,2.5],[102.3,1],[104.6,-1],[106.3,-2.5],[108,1],[110.3,2.5],[113.8,0],[117.4,-1.5],[121,0],[124.5,2],[128,4.5],[130.5,2],[134,-1.5],[137.7,-2.5],[140,-1],[143.6,0],[148.4,2.5],[152,3.5],[155.6,1],[158,-4],[160.3,-5],[162.7,-3],[165,-2],[168.7,0.5],[172.3,1.5],[175.8,3],[179.4,4],[183,3],[186.6,3],[190.2,2],[193.7,0],[197.3,-3],[201,-2],[204.5,-1.5],[208,-1],[211.6,0.5],[215.2,2.5],[218.8,3.5],[223.6,4.5],[227.2,4.5],[230.7,3.5],[233.1,0.5],[235.5,-3],[236.7,-5],[238.5,-5],[241.5,-1],[245.1,-2],[248.6,-0.5],[252.2,0],[255.8,-0.5],[259.4,0.5],[263,1.5],[267.7,2.5],[271.3,1],[274.9,0],[284.4,-0.3],[294,-0.5],[303.5,-0.8],[308,0],[313,1.5],[317.8,2.5],[322.6,1.5],[327.4,0],[332,-2],[337,-2.2],[341.7,-1],[346.4,3],[350,1],[353.6,0],[360,-0.3]];

const none: Pt[] = [];
// series order: black, green, red, orange, blue, light blue
const panelSeries: Pt[][][] = [
  [p1Black, p1Green, p1Red, p1Orange, p1Blue, p1LightBlue],
  [p2Black, p2Green, p2Red, p2Orange, p2Blue, p2LightBlue],
  [p3Black, p3Green, p3Red, p3Orange, p3Blue, p3LightBlue],
  [p4Black, p4Green, p4Red, p4Orange, p4Blue, p4LightBlue],
  [p5Black, p5Green, p5Red, p5Orange, none, none],
  [p6Black, p6Green, p6Red, p6Orange, none, none],
  [p7Black, p7Green, p7Red, p7Orange, none, none],
  [p8Black, p8Green, p8Red, p8Orange, none, none],
];

// layout
const PAGE_W = 1167;
const PANEL_H = 276.5;
const PLOT_H = 192;
const Y_AXIS_W = 80;
const RIGHT_PAD = 38;
const plotTops = [26, 26, 26, 26, 26, 27, 29, 29];
const FONT = '"Noto Sans CJK JP", "Noto Sans", sans-serif';
const AXIS_COLOR = "#595959";

const decorPlugin = {
  id: "panelDecor",
  afterDraw(chart: any, _args: any, opts: any) {
    const { ctx, chartArea: a } = chart;
    ctx.save();
    ctx.strokeStyle = "#3a3a3a";
    ctx.lineWidth = 2;
    ctx.strokeRect(a.left, a.top, a.right - a.left, a.bottom - a.top);
    const title: string = opts.title || "";
    ctx.font = `500 24px ${FONT}`;
    const chars = Array.from(title);
    const spacing = 4;
    const widths = chars.map((c) => ctx.measureText(c).width);
    const textW = widths.reduce((s, w) => s + w, 0) + spacing * (chars.length - 1);
    const cx = (a.left + a.right) / 2 - 3;
    const boxW = textW + 24;
    const boxH = 46;
    const bx = Math.round(cx - boxW / 2);
    const by = Math.round(a.top - boxH / 2);
    ctx.fillStyle = "#ffffff";
    ctx.fillRect(bx, by, boxW, boxH);
    ctx.strokeStyle = "#1a1a1a";
    ctx.lineWidth = 2;
    ctx.strokeRect(bx, by, boxW, boxH);
    ctx.fillStyle = "#000000";
    ctx.textBaseline = "middle";
    ctx.textAlign = "left";
    let x = bx + 12;
    chars.forEach((c, i) => {
      ctx.fillText(c, x, by + boxH / 2 + 1);
      x += widths[i] + spacing;
    });
    ctx.restore();
  },
};

function Panel({ index }: { index: number }) {
  const ref = useRef<HTMLCanvasElement>(null);
  const top = Math.round(index * PANEL_H);
  const h = Math.round((index + 1) * PANEL_H) - top;
  useEffect(() => {
    const canvas = ref.current;
    if (!canvas) return;
    const plotTop = plotTops[index];
    const datasets = panelSeries[index]
      .map((s, k) => ({
        label: String(k),
        data: s.map(([x, y]) => ({ x, y })),
        borderColor: seriesColors[k],
        backgroundColor: seriesColors[k],
        borderWidth: seriesWidths[k],
        pointRadius: 0,
        tension: 0,
        fill: false,
        borderJoinStyle: "round" as const,
        order: 10 - k,
      }))
      .filter((d) => d.data.length > 0);
    const tickFont = { family: FONT, size: 15, weight: "bold" as const };
    const chart = new Chart(canvas, {
      type: "line",
      data: { datasets },
      plugins: [decorPlugin],
      options: {
        animation: false,
        responsive: false,
        devicePixelRatio: 1,
        events: [],
        layout: { padding: { top: plotTop, right: RIGHT_PAD, left: 0, bottom: 0 } },
        plugins: {
          legend: { display: false },
          tooltip: { enabled: false },
          title: { display: false },
          panelDecor: { title: panelTitles[index] },
        } as any,
        scales: {
          x: {
            type: "linear",
            min: 0,
            max: 360,
            ticks: {
              stepSize: 10,
              maxTicksLimit: 100,
              autoSkip: false,
              maxRotation: 0,
              padding: 13,
              color: AXIS_COLOR,
              font: tickFont,
              callback: (v: any) => (xTickLabels.includes(Number(v)) ? String(v) : ""),
            },
            grid: {
              drawTicks: false,
              color: (c: any) => (c.tick && c.tick.value % 60 === 0 ? "#8c8c8c" : "#d4d4d4"),
              lineWidth: (c: any) => (c.tick && c.tick.value % 60 === 0 ? 1.8 : 1.6),
            },
            border: { display: true, color: "#3a3a3a", width: 2 },
            title: {
              display: true,
              text: xAxisTitle,
              color: AXIS_COLOR,
              font: { family: FONT, size: 15, weight: "bold" },
              padding: { top: 0, bottom: 8 },
            },
            afterFit: (s: any) => {
              s.height = h - plotTop - PLOT_H;
            },
          },
          y: {
            min: -10,
            max: 30,
            ticks: {
              stepSize: 5,
              padding: 14,
              color: AXIS_COLOR,
              font: tickFont,
              callback: (v: any) => (yTickLabels.includes(Number(v)) ? String(v) : ""),
            },
            grid: { drawTicks: false, color: "#bfbfbf", lineWidth: 2 },
            border: { display: true, color: "#3a3a3a", width: 2 },
            title: {
              display: true,
              text: yAxisTitle,
              color: AXIS_COLOR,
              font: { family: FONT, size: 15, weight: "bold" },
              padding: { top: 11, bottom: 0 },
            },
            afterFit: (s: any) => {
              s.width = Y_AXIS_W;
            },
          },
        },
      } as any,
    });
    return () => chart.destroy();
  }, [index, h]);
  return (
    <canvas
      ref={ref}
      width={PAGE_W}
      height={h}
      style={{ position: "absolute", left: 0, top, width: PAGE_W, height: h, display: "block" }}
    />
  );
}

export default function App() {
  return (
    <div style={{ position: "absolute", left: 0, top: 0, width: PAGE_W, height: 2212, background: "#ffffff", overflow: "hidden" }}>
      {panelTitles.map((_, i) => (
        <Panel key={i} index={i} />
      ))}
    </div>
  );
}
